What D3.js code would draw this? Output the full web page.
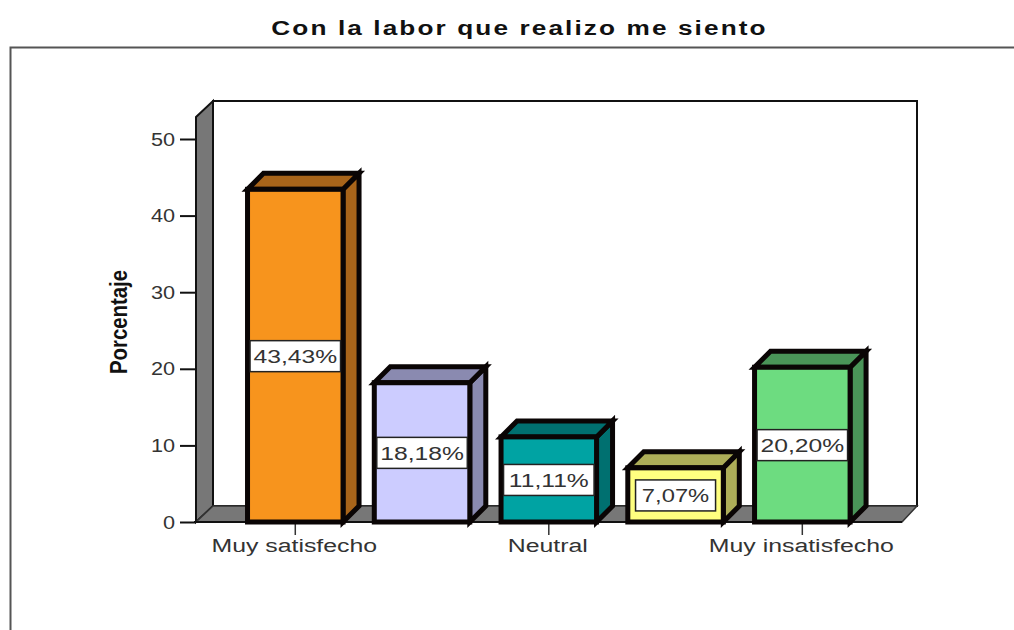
<!DOCTYPE html>
<html>
<head>
<meta charset="utf-8">
<script src="https://cdn.jsdelivr.net/npm/d3@7/dist/d3.min.js"></script>
<style>
html,body{margin:0;padding:0;background:#fff}
svg{display:block}
text{font-family:"Liberation Sans",Arial,sans-serif;fill:#1a1a1a}
</style>
</head>
<body>
<svg id="chart" width="1014" height="630"></svg>
<script>
const titleText = "Con la labor que realizo me siento";
const yAxisLabel = "Porcentaje";
const categories = ["Muy satisfecho", "", "Neutral", "", "Muy insatisfecho"];
const percentages = [43.43, 18.18, 11.11, 7.07, 20.20];
const valueLabels = ["43,43%", "18,18%", "11,11%", "7,07%", "20,20%"];
const frontColors = ["#f7941d", "#ccccff", "#00a3a3", "#ffff80", "#6ddc80"];
const sideColors = ["#a8641a", "#8a8ab0", "#007070", "#adad58", "#4a9458"];
const yTicks = [0, 10, 20, 30, 40, 50];

const svg = d3.select("#chart");
const depthX = 16, depthY = 16;
const plotLeft = 196, plotRight = 901, backRight = 917, floorY = 522, topY = 117;

const x = d3.scaleBand().domain(d3.range(categories.length))
  .range([209.5, 888.1]).paddingInner(0.2465).paddingOuter(0.3);
const y = d3.scaleLinear().domain([0, 50]).range([floorY, 139]);

const poly = pts => "M" + pts.map(p => p.join(",")).join("L") + "Z";
const applyAttrs = (sel, attrs) => { Object.entries(attrs).forEach(([k, v]) => sel.attr(k, v)); return sel; };
// widens text horizontally by the given factor, keeping its height
const stretch = (sel, k) => sel.attr("lengthAdjust", "spacingAndGlyphs")
  .attr("textLength", function () { return this.getComputedTextLength() * k; });

// outer chart frame, open on the right and bottom
svg.append("path").attr("d", "M10.5,630V47.5H1014").attr("fill", "none").attr("stroke", "#555").attr("stroke-width", 2);

// title
svg.append("text").attr("x", 519.5).attr("y", 34.5).attr("text-anchor", "middle")
  .attr("font-size", 20).attr("font-weight", "bold").attr("letter-spacing", 1.6)
  .style("fill", "#111").text(titleText).call(stretch, 1.31);

// 3D walls: back, left side and floor
const wallStroke = {stroke: "#111", "stroke-width": 2};
const backLeft = plotLeft + depthX + 1;
applyAttrs(svg.append("path").attr("d", poly([
  [backLeft, topY - depthY], [backRight, topY - depthY], [backRight, floorY - depthY], [backLeft, floorY - depthY]
])).attr("fill", "#fff"), wallStroke);
applyAttrs(svg.append("path").attr("d", poly([
  [plotLeft, topY], [backLeft, topY - depthY], [backLeft, floorY - depthY], [plotLeft, floorY]
])).attr("fill", "#777"), wallStroke);
applyAttrs(svg.append("path").attr("d", poly([
  [plotLeft, floorY], [backLeft, floorY - depthY], [backRight, floorY - depthY], [plotRight + 1, floorY]
])).attr("fill", "#777"), {stroke: "#333", "stroke-width": 1.5});

// y axis: the domain is hidden because the side wall's edge stands in for it
const yAxis = svg.append("g").attr("transform", `translate(${plotLeft},0)`)
  .call(d3.axisLeft(y).tickValues(yTicks).tickSize(16).tickPadding(5));
yAxis.select(".domain").remove();
yAxis.selectAll("line").attr("stroke", "#111").attr("stroke-width", 2);
yAxis.selectAll("text").attr("font-size", 19).attr("font-family", "Liberation Sans").style("fill", "#333").call(stretch, 1.14);

svg.append("text").attr("transform", "translate(127,322) rotate(-90)").attr("text-anchor", "middle")
  .attr("font-size", 23).attr("font-weight", "bold").attr("textLength", 104).attr("lengthAdjust", "spacingAndGlyphs")
  .style("fill", "#111").text(yAxisLabel);

// x axis: only the labelled categories carry a tick
const xAxis = svg.append("g").attr("transform", `translate(0,${floorY})`)
  .call(d3.axisBottom(x).tickFormat(i => categories[i]).tickSize(13).tickPadding(4));
xAxis.select(".domain").remove();
xAxis.selectAll(".tick").filter(i => !categories[i]).remove();
xAxis.selectAll("line").attr("stroke", "#333").attr("stroke-width", 1.5);
xAxis.selectAll("text").attr("font-size", 18).attr("font-family", "Liberation Sans").attr("dx", -1).style("fill", "#333").call(stretch, 1.38);
svg.append("line").attr("x1", plotLeft - 2).attr("x2", plotRight + 1).attr("y1", floorY).attr("y2", floorY).attr("stroke", "#111").attr("stroke-width", 2);

// bars: side and top faces, then the front face and value label
const faceStroke = {stroke: "#0a0505", "stroke-width": 5, "stroke-linejoin": "miter"};
svg.append("g").selectAll("g").data(percentages).join("g").each(function (v, i) {
  const g = d3.select(this);
  const l = x(i), r = x(i) + x.bandwidth(), t = y(v), b = y(0);
  applyAttrs(g.append("path").attr("d", poly([[r, t], [r + depthX, t - depthY], [r + depthX, b - depthY], [r, b]])).attr("fill", sideColors[i]), faceStroke);
  applyAttrs(g.append("path").attr("d", poly([[l, t], [l + depthX, t - depthY], [r + depthX, t - depthY], [r, t]])).attr("fill", sideColors[i]), faceStroke);
  applyAttrs(g.append("rect").attr("x", l).attr("y", t).attr("width", r - l).attr("height", b - t).attr("fill", frontColors[i]), faceStroke);

  // the label box sits at the middle of the front face; on a short bar it is inset
  const short = v < 10;
  const boxH = 31, boxW = x.bandwidth() - (short ? 15.5 : 5), cy = (t + b) / 2 + 0.5, cx = (l + r) / 2;
  g.append("rect").attr("x", cx - boxW / 2).attr("y", cy - boxH / 2).attr("width", boxW).attr("height", boxH)
    .attr("fill", "#fff").attr("stroke", "#222").attr("stroke-width", 1.5);
  g.append("text").attr("x", cx).attr("y", cy + 7).attr("text-anchor", "middle")
    .attr("font-size", 18).style("fill", "#333").text(valueLabels[i]).call(stretch, short ? 1.32 : 1.37);
});
</script>
</body>
</html>
